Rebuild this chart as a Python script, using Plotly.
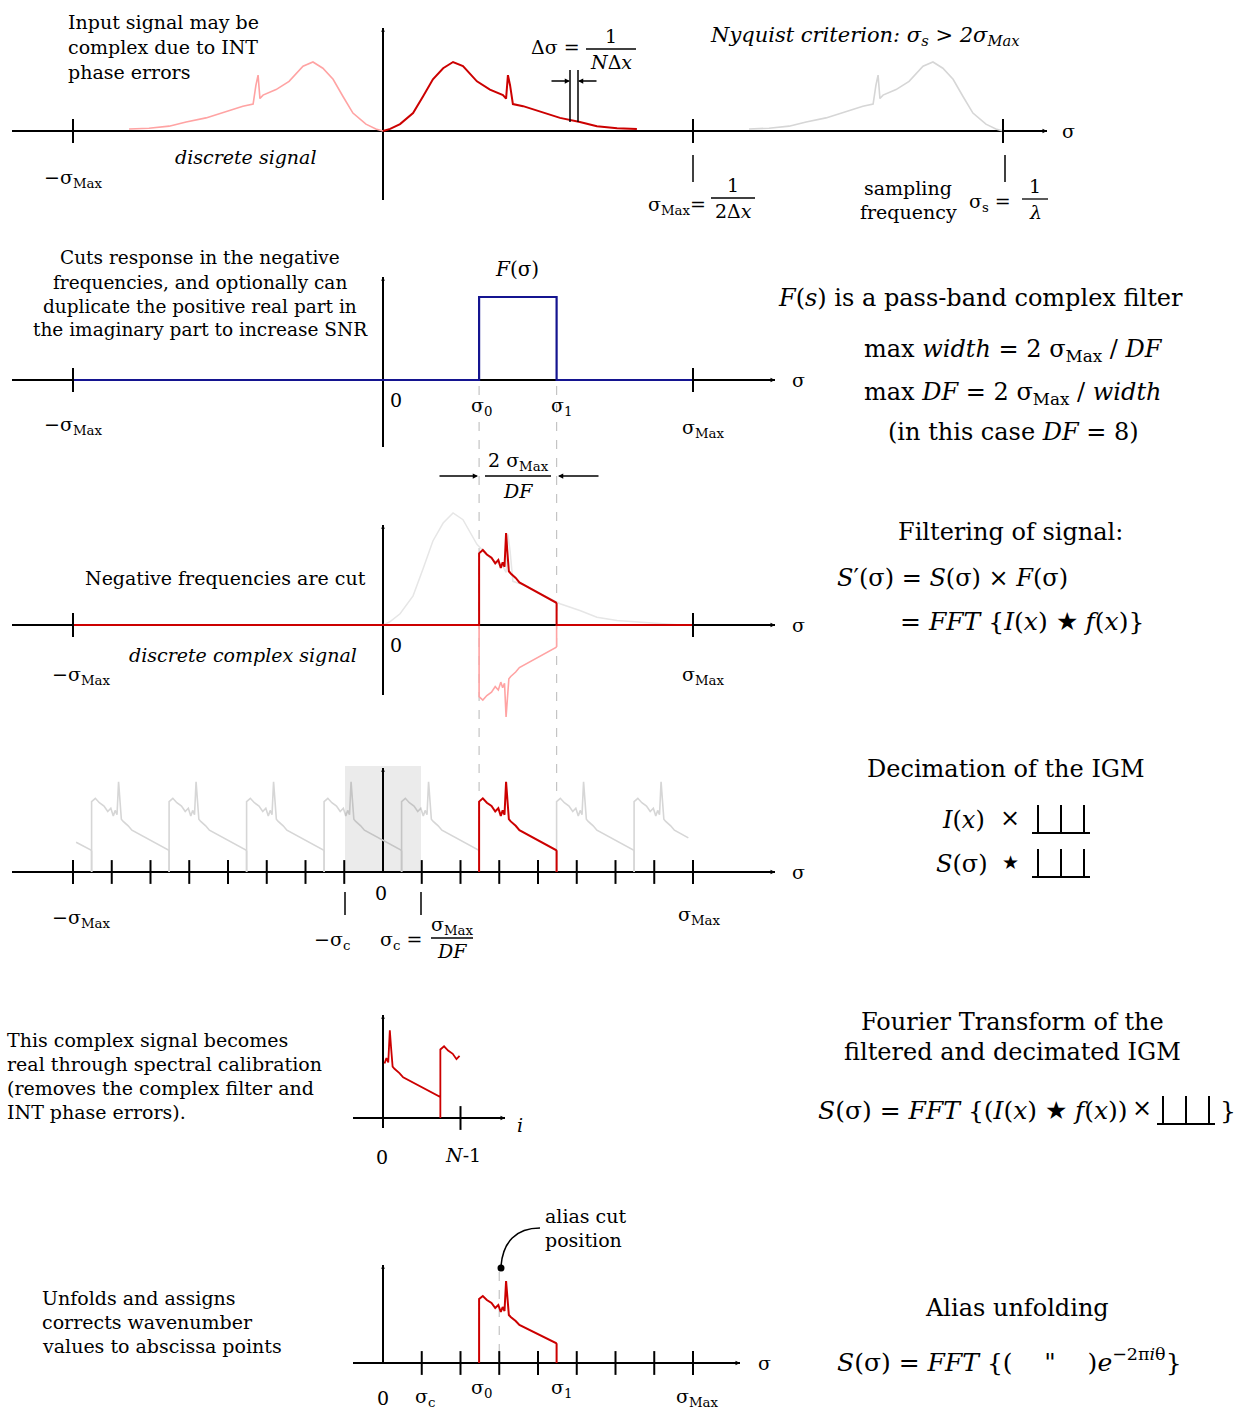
import numpy as np
import plotly.graph_objects as go

# ---------------- data (sigma in units of sigma_Max, heights relative to spectrum peak) ----------------
SIGMA_MAX = 1.0
SIGMA_S = 2.0                 # sampling frequency  sigma_s = 1/lambda
DF = 8                        # decimation factor
SIGMA_C = SIGMA_MAX / DF
SIGMA_0 = 0.31                # filter band start
SIGMA_1 = 0.56                # filter band end
ALIAS_CUT = 3 * SIGMA_C

BASE_SIGMA = [0.000, 0.023, 0.055, 0.097, 0.129, 0.161, 0.194, 0.226, 0.258, 0.303, 0.345,
              0.387, 0.397, 0.403, 0.410, 0.416, 0.419, 0.452, 0.506, 0.571, 0.635, 0.690,
              0.755, 0.819]
BASE_H = [0.00, 0.03, 0.10, 0.26, 0.50, 0.75, 0.91, 1.00, 0.94, 0.72, 0.60,
          0.52, 0.47, 0.81, 0.66, 0.45, 0.39, 0.36, 0.28, 0.19, 0.13, 0.07,
          0.04, 0.03]
TAIL_SIGMA = [0.88, 0.96]
TAIL_H = [0.015, 0.0]

RED_SEG_SIGMA = [0.310, 0.310, 0.322, 0.335, 0.350, 0.362, 0.372, 0.380, 0.386, 0.392, 0.397,
                 0.401, 0.406, 0.412, 0.420, 0.428, 0.440, 0.460, 0.485, 0.510, 0.530, 0.548,
                 0.558, 0.560, 0.560]
RED_SEG_H = [0.00, 0.64, 0.67, 0.63, 0.60, 0.55, 0.58, 0.51, 0.56, 0.52, 0.82,
             0.66, 0.48, 0.46, 0.44, 0.42, 0.38, 0.35, 0.31, 0.27, 0.24, 0.22,
             0.20, 0.19, 0.00]

FILTER_SIGMA = [-1.0, SIGMA_0, SIGMA_0, SIGMA_1, SIGMA_1, 1.0]
FILTER_H = [0, 0, 1, 1, 0, 0]

TICKS_P1 = [-1.0, 1.0, 2.0]
TICKS_P2 = [-1.0, 1.0]
TICKS_P3 = [-1.0, 1.0]
TICKS_P4 = [k / 8 for k in range(-8, 9) if k != 0]
TICKS_P5 = [2 * SIGMA_C]
TICKS_P6 = [k / 8 for k in range(1, 9)]
REPLICA_K = [-6, -5, -4, -3, -2, -1, 1, 2]

# ---------------- geometry / style ----------------
W, H = 1244, 1412
X0, SX = 383, 310
FONT = "DejaVu Serif"
LS, RS = 19, 24
RED, PINK, GRAY, BLUE = "#cc0000", "#ffa3a3", "#d6d6d6", "#141490"

PANELS = {
    1: dict(top=0, bottom=232, zero=131, unit=69),
    2: dict(top=232, bottom=462, zero=380, unit=83),
    3: dict(top=462, bottom=735, zero=625, unit=112),
    4: dict(top=735, bottom=985, zero=872, unit=110),
    5: dict(top=985, bottom=1185, zero=1118, unit=107),
    6: dict(top=1185, bottom=1412, zero=1363, unit=100),
}


def px(x):
    return x / W


def py(y):
    return 1 - y / H


def yname(n):
    return "y" if n == 1 else f"y{n}"


fig = go.Figure()


def curve(n, xs, ys, color, width=2.0):
    fig.add_trace(go.Scatter(x=xs, y=ys, mode="lines", xaxis="x", yaxis=yname(n),
                             line=dict(color=color, width=width), hoverinfo="skip",
                             showlegend=False))


def ticks(n, xs):
    fig.add_trace(go.Scatter(x=xs, y=[0] * len(xs), mode="markers", xaxis="x", yaxis=yname(n),
                             marker=dict(symbol="line-ns", size=17,
                                         line=dict(color="black", width=2)),
                             hoverinfo="skip", showlegend=False))


bs = np.array(BASE_SIGMA)
bh = np.array(BASE_H)
rs = np.array(RED_SEG_SIGMA)
rh = np.array(RED_SEG_H)

# panel 1 : discrete signal with negative image and alias at sigma_s
curve(1, -bs, bh, PINK, 1.6)
curve(1, SIGMA_S - bs, bh, GRAY, 1.6)
curve(1, bs, bh, RED, 2.0)
ticks(1, TICKS_P1)

# panel 2 : pass-band filter
curve(2, FILTER_SIGMA, FILTER_H, BLUE, 2.2)
ticks(2, TICKS_P2)

# panel 3 : filtered complex signal
curve(3, np.concatenate([bs, TAIL_SIGMA]), np.concatenate([bh, TAIL_H]), "#e6e6e6", 1.5)
curve(3, rs, -rh, PINK, 1.6)
curve(3, np.concatenate([[-1.0], rs, [1.0]]), np.concatenate([[0.0], rh, [0.0]]), RED, 2.0)
ticks(3, TICKS_P3)

# panel 4 : decimation -> replicas every 2 sigma_c
rx, ry = [], []
for k in REPLICA_K:
    xs = rs + k * 2 * SIGMA_C
    keep = (xs >= -SIGMA_MAX) & (xs <= SIGMA_MAX)
    rx += list(xs[keep]) + [None]
    ry += list(rh[keep]) + [None]
curve(4, rx, ry, GRAY, 1.6)
curve(4, rs, rh, RED, 2.0)
ticks(4, TICKS_P4)

# panel 5 : decimated spectrum folded into index range [0, N-1]
hi = rs >= ALIAS_CUT
p5x = np.concatenate([rs[hi] - ALIAS_CUT, rs[~hi] - SIGMA_C])
p5y = np.concatenate([rh[hi], rh[~hi]])
curve(5, p5x, p5y, RED, 1.8)
ticks(5, TICKS_P5)

# panel 6 : unfolded spectrum
curve(6, rs, rh, RED, 2.0)
ticks(6, TICKS_P6)

# ---------------- axes ----------------
layout_axes = dict(
    xaxis=dict(domain=[0, 1], range=[(0 - X0) / SX, (W - X0) / SX], visible=False,
               fixedrange=True, anchor="y"),
)
for n, p in PANELS.items():
    key = "yaxis" if n == 1 else f"yaxis{n}"
    layout_axes[key] = dict(domain=[py(p["bottom"]), py(p["top"])],
                            range=[-(p["bottom"] - p["zero"]) / p["unit"],
                                   (p["zero"] - p["top"]) / p["unit"]],
                            visible=False, fixedrange=True, anchor="x")

shapes, anns = [], []


def pline(x0, y0, x1, y1, width=1.5, color="black", dash=None, layer="below"):
    shapes.append(dict(type="line", xref="paper", yref="paper", x0=px(x0), y0=py(y0),
                       x1=px(x1), y1=py(y1), layer=layer,
                       line=dict(color=color, width=width, dash=dash)))


def text(t, x, y, size=LS, xa="center", color="black"):
    anns.append(dict(text=t, x=px(x), y=py(y), xref="paper", yref="paper", showarrow=False,
                     xanchor=xa, yanchor="middle",
                     font=dict(size=size, color=color, family=FONT)))


def arrow(x, y, ax, ay, size=0.7, width=1.5):
    anns.append(dict(text="", x=px(x), y=py(y), xref="paper", yref="paper", showarrow=True,
                     ax=ax, ay=ay, arrowhead=2, arrowsize=size, arrowwidth=width,
                     arrowcolor="black", font=dict(size=10)))


def frac(num, den, xc, ybar, w, size=LS, gap=13):
    text(num, xc, ybar - gap, size)
    pline(xc - w / 2, ybar, xc + w / 2, ybar, 1.3, layer="above")
    text(den, xc, ybar + gap, size)


def comb(x0, x1, ybase, ytop):
    pline(x0, ybase, x1, ybase, 2, layer="above")
    for i in range(3):
        xx = x0 + 6 + i * (x1 - x0 - 12) / 2
        pline(xx, ybase, xx, ytop, 2, layer="above")


def axes(zero, left, right, vtop, vbot):
    pline(left, zero, right, zero, 2)
    pline(X0, vtop, X0, vbot, 2)
    arrow(right, zero, -12, 0, 0.6, 1.5)
    arrow(X0, vtop, 0, 8, 0.5, 1.5)


SM = "σ<sub>Max</sub>"

# ---- panel 1 ----
axes(131, 12, 1047, 28, 200)
text("Input signal may be", 66, 22, xa="left")
text("complex due to INT", 66, 47, xa="left")
text("phase errors", 66, 72, xa="left")
text("−" + SM, 42, 178, xa="left")
text("<i>discrete signal</i>", 246, 157)
text("Δσ =", 582, 47, xa="right")
frac("1", "<i>N</i>Δ<i>x</i>", 611, 49, 50)
pline(570, 70, 570, 122, 1.5, layer="above")
pline(578, 70, 578, 122, 1.5, layer="above")
arrow(570, 81, -20, 0)
arrow(578, 81, 20, 0)
text("<i>Nyquist criterion: σ<sub>s</sub> > 2σ<sub>Max</sub></i>", 708, 36, 21, xa="left")
text("σ", 1060, 131, xa="left")
pline(693, 155, 693, 182, 1.5)
pline(1005, 155, 1005, 182, 1.5)
text(SM + "=", 708, 205, xa="right")
frac("1", "2Δ<i>x</i>", 733, 198, 44)
text("sampling", 908, 188)
text("frequency", 908, 212)
text("σ<sub>s</sub> =", 1013, 202, xa="right")
frac("1", "<i>λ</i>", 1035, 199, 26)

# ---- panel 2 ----
axes(380, 12, 775, 277, 447)
for i, line in enumerate(["Cuts response in the negative",
                          "frequencies, and optionally can",
                          "duplicate the positive real part in",
                          "the imaginary part to increase SNR"]):
    text(line, 200, 258 + 24 * i, 18.5)
text("<i>F</i>(σ)", 517, 269, 20)
text("0", 396, 400)
text("σ<sub>0</sub>", 481, 407)
text("σ<sub>1</sub>", 561, 407)
text("−" + SM, 42, 425, xa="left")
text(SM, 680, 428, xa="left")
text("σ", 790, 380, xa="left")
text("<i>F</i>(<i>s</i>) is a pass-band complex filter", 980, 298, RS)
text("max <i>width</i> = 2 " + SM + " / <i>DF</i>", 1013, 350, RS)
text("max <i>DF</i> = 2 " + SM + " / <i>width</i>", 1012, 393, RS)
text("(in this case <i>DF</i> = 8)", 1013, 432, RS)
frac("2 " + SM, "<i>DF</i>", 518, 476, 66, LS, 15)
arrow(478, 476, -40, 0)
arrow(558, 476, 42, 0)
for xs_ in (SIGMA_0, SIGMA_1):
    xx = X0 + xs_ * SX
    pline(xx, 386, xx, 795, 1.2, "#c4c4c4", "dash")

# ---- panel 3 ----
axes(625, 12, 775, 525, 695)
text("Negative frequencies are cut", 225, 578)
text("0", 396, 645)
text("<i>discrete complex signal</i>", 243, 655)
text("−" + SM, 50, 675, xa="left")
text(SM, 680, 675, xa="left")
text("σ", 790, 625, xa="left")
text("Filtering of signal:", 1010, 532, RS)
text("<i>S</i>′(σ) = <i>S</i>(σ) × <i>F</i>(σ)", 835, 578, RS, xa="left")
text("= <i>FFT</i> {<i>I</i>(<i>x</i>) ★ <i>f</i>(<i>x</i>)}", 898, 622, RS + 1, xa="left")

# ---- panel 4 ----
shapes.append(dict(type="rect", xref="paper", yref="paper", x0=px(345), x1=px(421),
                   y0=py(872), y1=py(766), fillcolor="rgba(0,0,0,0.08)",
                   line=dict(width=0), layer="above"))
axes(872, 12, 775, 768, 872)
text("0", 381, 893)
pline(345, 892, 345, 915, 1.5)
pline(421, 892, 421, 915, 1.5)
text("−σ<sub>c</sub>", 332, 940)
text("σ<sub>c</sub> =", 424, 940, xa="right")
frac(SM, "<i>DF</i>", 452, 938, 42)
text("−" + SM, 50, 918, xa="left")
text(SM, 676, 915, xa="left")
text("σ", 790, 872, xa="left")
text("Decimation of the IGM", 1006, 769, RS)
text("<i>I</i>(<i>x</i>)", 963, 820, RS)
text("×", 1010, 818, RS)
comb(1032, 1090, 833, 805)
text("<i>S</i>(σ)", 962, 864, RS)
text("★", 1010, 862, RS - 5)
comb(1032, 1090, 877, 849)

# ---- panel 5 ----
axes(1118, 353, 505, 1015, 1128)
for i, line in enumerate(["This complex signal becomes",
                          "real through spectral calibration",
                          "(removes the complex filter and",
                          "INT phase errors)."]):
    text(line, 5, 1040 + 24 * i, xa="left")
text("<i>i</i>", 520, 1125)
text("0", 382, 1157)
text("<i>N</i>-1", 463, 1155)
text("Fourier Transform of the", 1012, 1022, RS)
text("filtered and decimated IGM", 1012, 1052, RS)
text("<i>S</i>(σ) = <i>FFT</i> {(<i>I</i>(<i>x</i>) ★ <i>f</i>(<i>x</i>))", 1130, 1110, RS + 1, xa="right")
text("×", 1142, 1108, RS)
comb(1157, 1215, 1124, 1096)
text("}", 1228, 1110, RS + 1)

# ---- panel 6 ----
axes(1363, 353, 740, 1265, 1363)
text("alias cut", 543, 1216, xa="left")
text("position", 543, 1240, xa="left")
shapes.append(dict(type="path", xref="paper", yref="paper", layer="above",
                   path=f"M {px(540)},{py(1228)} C {px(516)},{py(1228)} {px(503)},{py(1242)} {px(501)},{py(1266)}",
                   line=dict(color="black", width=1.5)))
shapes.append(dict(type="circle", xref="paper", yref="paper", xsizemode="pixel",
                   ysizemode="pixel", xanchor=px(501), yanchor=py(1268), x0=-3.5, x1=3.5,
                   y0=-3.5, y1=3.5, fillcolor="black", line=dict(width=0), layer="above"))
xx = X0 + ALIAS_CUT * SX
pline(xx, 1272, xx, 1363, 1.2, "#c4c4c4", "dash")
for i, line in enumerate(["Unfolds and assigns",
                          "corrects wavenumber",
                          "values to abscissa points"]):
    text(line, 40, 1298 + 24 * i, xa="left")
text("0", 383, 1398)
text("σ<sub>c</sub>", 425, 1397)
text("σ<sub>0</sub>", 481, 1388)
text("σ<sub>1</sub>", 561, 1388)
text(SM, 697, 1397)
text("σ", 756, 1363, xa="left")
text("Alias unfolding", 1017, 1308, RS)
text("<i>S</i>(σ) = <i>FFT</i> {(    \"    )<i>e</i><sup>−2π<i>i</i>θ</sup>}", 835, 1360, RS + 1, xa="left")

fig.update_layout(
    width=W, height=H, margin=dict(l=0, r=0, t=0, b=0),
    paper_bgcolor="white", plot_bgcolor="rgba(0,0,0,0)",
    showlegend=False, shapes=shapes, annotations=anns,
    font=dict(family=FONT, color="black"),
    **layout_axes,
)
fig.write_html("out.html", config={"displayModeBar": False, "staticPlot": True},
               post_script="document.body.style.margin='0px';document.body.style.overflow='hidden';")
